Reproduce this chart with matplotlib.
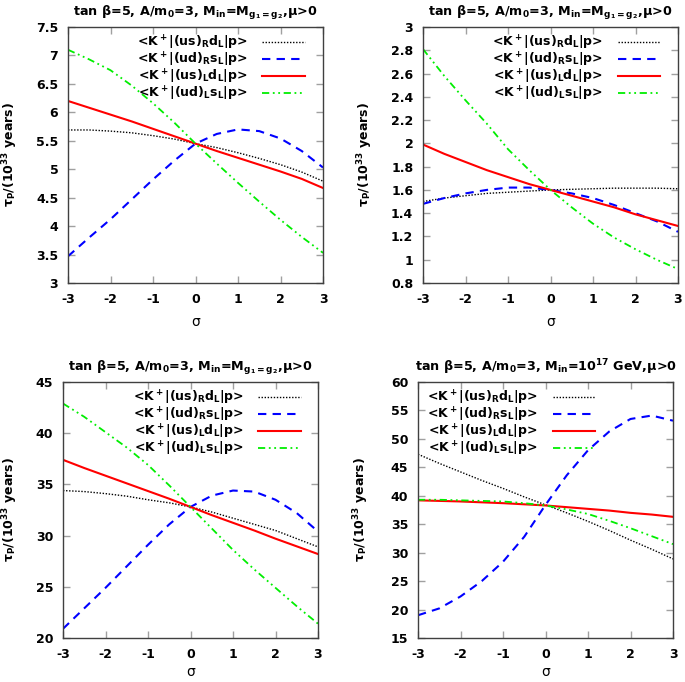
import matplotlib
matplotlib.use("Agg")
import matplotlib.pyplot as plt
from matplotlib.ticker import MultipleLocator, FormatStrFormatter

plt.rcParams['font.family'] = ['DejaVu Sans']
plt.rcParams['font.weight'] = 'bold'
plt.rcParams['mathtext.default'] = 'bf'

sigma = [-3, -2.5, -2, -1.5, -1, -0.5, 0, 0.5, 1, 1.5, 2, 2.5, 3]

labels = [r"<K$^+$|(us)$_R$d$_L$|p>",
          r"<K$^+$|(ud)$_R$s$_L$|p>",
          r"<K$^+$|(us)$_L$d$_L$|p>",
          r"<K$^+$|(ud)$_L$s$_L$|p>"]

titles = [r"tan β=5, A/m$_0$=3, M$_{in}$=M$_{g_{1}=g_{2}}$,μ>0",
          r"tan β=5, A/m$_0$=3, M$_{in}$=M$_{g_{1}=g_{2}}$,μ>0",
          r"tan β=5, A/m$_0$=3, M$_{in}$=M$_{g_{1}=g_{2}}$,μ>0",
          r"tan β=5, A/m$_0$=3, M$_{in}$=10$^{17}$ GeV,μ>0"]

# Panel 1 (top left)
p1_usR = [5.69, 5.69, 5.67, 5.64, 5.59, 5.53, 5.45, 5.38, 5.29, 5.19, 5.08, 4.95, 4.79]
p1_udR = [3.47, 3.80, 4.12, 4.47, 4.82, 5.15, 5.45, 5.62, 5.70, 5.67, 5.54, 5.32, 5.03]
p1_usL = [6.20, 6.08, 5.96, 5.84, 5.71, 5.58, 5.45, 5.32, 5.20, 5.08, 4.96, 4.83, 4.67]
p1_udL = [7.10, 6.93, 6.74, 6.47, 6.16, 5.82, 5.45, 5.10, 4.76, 4.43, 4.11, 3.81, 3.53]

# Panel 2 (top right)
p2_usR = [1.50, 1.53, 1.55, 1.57, 1.58, 1.59, 1.60, 1.605, 1.61, 1.615, 1.615, 1.615, 1.61]
p2_udR = [1.48, 1.53, 1.57, 1.60, 1.62, 1.62, 1.60, 1.57, 1.53, 1.47, 1.40, 1.33, 1.24]
p2_usL = [1.99, 1.91, 1.84, 1.77, 1.71, 1.65, 1.60, 1.55, 1.50, 1.45, 1.39, 1.34, 1.29]
p2_udL = [2.81, 2.58, 2.37, 2.17, 1.95, 1.77, 1.60, 1.45, 1.31, 1.19, 1.09, 1.00, 0.92]

# Panel 3 (bottom left)
p3_usR = [34.4, 34.3, 34.1, 33.85, 33.5, 33.2, 32.8, 32.3, 31.7, 31.1, 30.5, 29.7, 28.9]
p3_udR = [20.9, 22.9, 24.9, 27.0, 29.1, 31.1, 32.8, 33.9, 34.4, 34.3, 33.5, 32.2, 30.4]
p3_usL = [37.4, 36.6, 35.85, 35.1, 34.35, 33.6, 32.8, 32.0, 31.25, 30.5, 29.7, 28.95, 28.2]
p3_udL = [42.9, 41.6, 40.1, 38.6, 36.9, 34.9, 32.8, 30.7, 28.6, 26.7, 24.9, 23.1, 21.4]

# Panel 4 (bottom right)
p4_usR = [47.3, 45.7, 44.2, 42.7, 41.3, 39.8, 38.4, 37.0, 35.5, 33.9, 32.2, 30.6, 28.9]
p4_udR = [19.0, 20.2, 22.3, 25.0, 28.4, 32.8, 38.4, 43.6, 48.0, 51.3, 53.5, 54.1, 53.2]
p4_usL = [39.2, 39.1, 39.0, 38.85, 38.7, 38.5, 38.3, 38.0, 37.7, 37.4, 37.0, 36.7, 36.3]
p4_udL = [39.3, 39.3, 39.2, 39.1, 39.0, 38.7, 38.3, 37.6, 36.8, 35.6, 34.3, 32.9, 31.5]

panels = [
    dict(series=[p1_usR, p1_udR, p1_usL, p1_udL], ylim=(3, 7.5), ystep=0.5,
         box=(68, 27, 323, 283), ylab_x=-0.19, leg_loc='upper right',
         leg_anchor=(0.929, 0.975), xlabpad=7),
    dict(series=[p2_usR, p2_udR, p2_usL, p2_udL], ylim=(0.8, 3), ystep=0.2,
         box=(423, 27, 678, 283), ylab_x=-0.188, leg_loc='upper right',
         leg_anchor=(0.93, 0.975), xlabpad=7),
    dict(series=[p3_usR, p3_udR, p3_usL, p3_udL], ylim=(20, 45), ystep=5,
         box=(63, 382, 318, 638), ylab_x=-0.169, leg_loc='upper right',
         leg_anchor=(0.933, 0.975), xlabpad=3),
    dict(series=[p4_usR, p4_udR, p4_usL, p4_udL], ylim=(15, 60), ystep=5,
         box=(418, 382, 673, 638), ylab_x=-0.184, leg_loc='upper left',
         leg_anchor=(0.035, 0.975), xlabpad=3),
]

styles = [
    dict(color='black', lw=1.0, dashes=(1, 1.2)),
    dict(color='#0000ff', lw=1.5, dashes=(4, 3)),
    dict(color='#ff0000', lw=1.5, dashes=()),
    dict(color='#00ee00', lw=1.3, dashes=(4, 2, 1, 2, 1, 2)),
]

W, H = 685, 682
fig = plt.figure(figsize=(W / 100, H / 100), dpi=100)

for i, p in enumerate(panels):
    l, t, r, b = p['box']
    ax = fig.add_axes([l / W, 1 - b / H, (r - l) / W, (b - t) / H])
    for s, st, lab in zip(p['series'], styles, labels):
        line, = ax.plot(sigma, s, color=st['color'], lw=st['lw'], label=lab)
        if st['dashes']:
            line.set_dashes(st['dashes'])
    ax.set_xlim(-3, 3)
    ax.set_ylim(*p['ylim'])
    ax.xaxis.set_major_locator(MultipleLocator(1))
    ax.yaxis.set_major_locator(MultipleLocator(p['ystep']))
    ax.yaxis.set_major_formatter(FormatStrFormatter('%g'))
    ax.xaxis.set_major_formatter(FormatStrFormatter('%g'))
    ax.tick_params(direction='in', top=True, right=True, length=5, width=1,
                   color='#a0a0a0', labelsize=9, pad=7)
    for lbl in ax.get_xticklabels() + ax.get_yticklabels():
        lbl.set_fontweight('bold')
    for sp in ax.spines.values():
        sp.set_color('#404040')
        sp.set_linewidth(1.0)
    ax.set_xlabel('σ', fontsize=10, fontweight='normal', labelpad=p['xlabpad'])
    ax.set_ylabel(r"τ$_P$/(10$^{33}$ years)", fontsize=9, fontweight='bold')
    ax.yaxis.set_label_coords(p['ylab_x'], 0.5)
    ax.set_title(titles[i], fontsize=9.2, fontweight='bold', pad=8)
    ax.legend(loc=p['leg_loc'], bbox_to_anchor=p['leg_anchor'], frameon=False,
              markerfirst=False, handlelength=3.4, handletextpad=1.2,
              labelspacing=-0.1, borderpad=0, borderaxespad=0,
              prop=dict(size=9, weight='bold'))

fig.savefig('out.png', dpi=100)
